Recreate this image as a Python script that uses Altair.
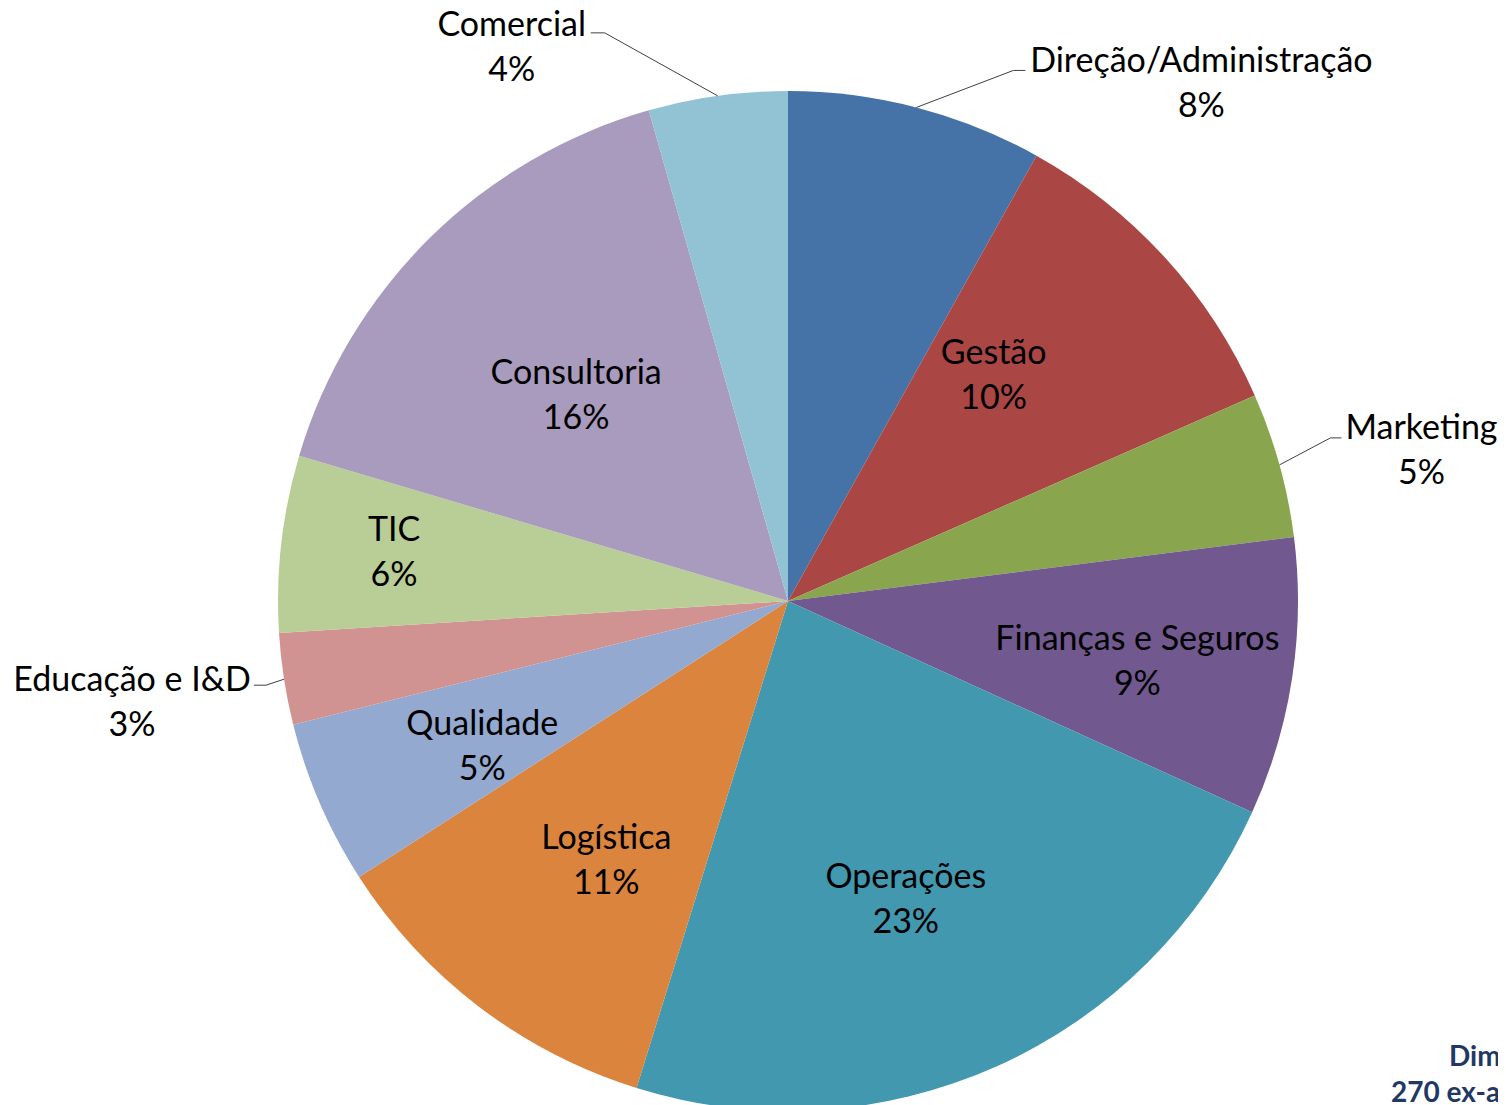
import altair as alt
import pandas as pd

# ---------------- data ----------------
categories = ["Direção/Administração", "Gestão", "Marketing", "Finanças e Seguros",
              "Operações", "Logística", "Qualidade", "Educação e I&D", "TIC",
              "Consultoria", "Comercial"]
shares = [8.1, 10.3, 4.6, 8.8, 23.0, 11.1, 5.2, 2.9, 5.6, 16.0, 4.4]
pct_labels = ["8%", "10%", "5%", "9%", "23%", "11%", "5%", "3%", "6%", "16%", "4%"]
colors = ["#4572A7", "#AA4643", "#89A54E", "#71588F", "#4198AF", "#DB843D",
          "#93A9CF", "#D19392", "#B9CD96", "#A99BBD", "#92C3D4"]
outside_labels = ["Direção/Administração", "Marketing", "Educação e I&D", "Comercial"]
caption_lines = ["Dimensão da amostra", "270 ex-alunos"]

# ---------------- layout (pixels) ----------------
W, H = 1490, 1097
CX, CY, R = 780, 593, 510
R_IN = 320
FONT = "Lato"
LH = 45  # line height of the two-line labels

# small nudges for the inside labels (Excel "best fit" placement)
nudge = {"Gestão": (-31, -12), "Finanças e Seguros": (33, 10), "Operações": (-13, 4),
         "Logística": (12, 3), "Qualidade": (-12, 16), "TIC": (-76, -14),
         "Consultoria": (13, 20)}
# leader lines: elbow dx, dy, horizontal tail, label-centre dx, dy (from elbow)
leader = {"Direção/Administração": (97, -37, 12, 188, 11),
          "Comercial": (-113, -63, -14, -93, 13),
          "Marketing": (51, -27, 11, 91, 11),
          "Educação e I&D": (-18, 6, -12, -134, 15)}

rows = []
for i, (c, v, p) in enumerate(zip(categories, shares, pct_labels)):
    n = nudge.get(c, (0, 0))
    l = leader.get(c, (0, 0, 0, 0, 0))
    rows.append(dict(idx=i, cat=c, value=v, pct=p, outside=c in outside_labels,
                     nx=n[0], ny=n[1], ex=l[0], ey=l[1], hx=l[2], lx=l[3], ly=l[4]))
df = pd.DataFrame(rows)

xs = alt.Scale(domain=[0, W], range=[0, W], nice=False, zero=False)
ys = alt.Scale(domain=[0, H], range=[0, H], nice=False, zero=False)

base = (
    alt.Chart(df)
    .transform_joinaggregate(total="sum(value)")
    .transform_window(cum="sum(value)", sort=[alt.SortField("idx")], frame=[None, 0])
    .transform_calculate(mid="(datum.cum - datum.value/2) / datum.total * 2 * PI")
    .transform_calculate(sx=f"{CX} + {R} * sin(datum.mid)")
    .transform_calculate(sy=f"{CY} - {R} * cos(datum.mid)")
    .transform_calculate(bx="datum.sx + datum.ex")
    .transform_calculate(by="datum.sy + datum.ey")
    .transform_calculate(tx="datum.bx + datum.hx")
    .transform_calculate(olx="datum.bx + datum.lx")
    .transform_calculate(oly="datum.by + datum.ly")
    .transform_calculate(ilx=f"{CX} + {R_IN} * sin(datum.mid) + datum.nx")
    .transform_calculate(ily=f"{CY} - {R_IN} * cos(datum.mid) + datum.ny")
    .transform_calculate(txt="datum.cat + '\\n' + datum.pct")
)

pie = base.mark_arc(outerRadius=R, stroke=None).encode(
    theta=alt.Theta("value:Q", stack=True),
    color=alt.Color("cat:N", scale=alt.Scale(domain=categories, range=colors), legend=None),
    order=alt.Order("idx:Q"),
    x=alt.value(CX),
    y=alt.value(CY),
)

text_style = dict(font=FONT, fontSize=34, lineBreak="\n", lineHeight=LH,
                  align="center", baseline="middle", color="#000000", dy=-LH / 2 + 3)

inside_text = base.transform_filter("!datum.outside").mark_text(**text_style).encode(
    x=alt.X("ilx:Q", scale=xs, axis=None),
    y=alt.Y("ily:Q", scale=ys, axis=None),
    text="txt:N",
)

outside_base = base.transform_filter("datum.outside")

leader1 = outside_base.mark_rule(color="#404040", strokeWidth=1).encode(
    x=alt.X("sx:Q", scale=xs, axis=None), y=alt.Y("sy:Q", scale=ys, axis=None),
    x2="bx:Q", y2="by:Q",
)
leader2 = outside_base.mark_rule(color="#404040", strokeWidth=1).encode(
    x=alt.X("bx:Q", scale=xs, axis=None), y=alt.Y("by:Q", scale=ys, axis=None),
    x2="tx:Q", y2="by:Q",
)
outside_text = outside_base.mark_text(**text_style).encode(
    x=alt.X("olx:Q", scale=xs, axis=None),
    y=alt.Y("oly:Q", scale=ys, axis=None),
    text="txt:N",
)

cap_df = pd.DataFrame({"t": caption_lines})
cap_style = dict(font=FONT, fontSize=28, fontWeight="bold", color="#1F3864",
                 align="left", baseline="alphabetic")
cap1 = alt.Chart(cap_df).transform_filter(f"datum.t == '{caption_lines[0]}'").mark_text(
    **cap_style).encode(text="t:N", x=alt.value(1441), y=alt.value(1058))
cap2 = alt.Chart(cap_df).transform_filter(f"datum.t == '{caption_lines[1]}'").mark_text(
    **cap_style).encode(text="t:N", x=alt.value(1383), y=alt.value(1094))

chart = alt.layer(pie, inside_text, leader1, leader2, outside_text, cap1, cap2).properties(
    width=W, height=H,
    autosize=alt.AutoSizeParams(type="none"),
    padding=0,
    background="white",
).configure_view(stroke=None)

chart.save("out.html", embed_options={"renderer": "svg", "actions": False})
